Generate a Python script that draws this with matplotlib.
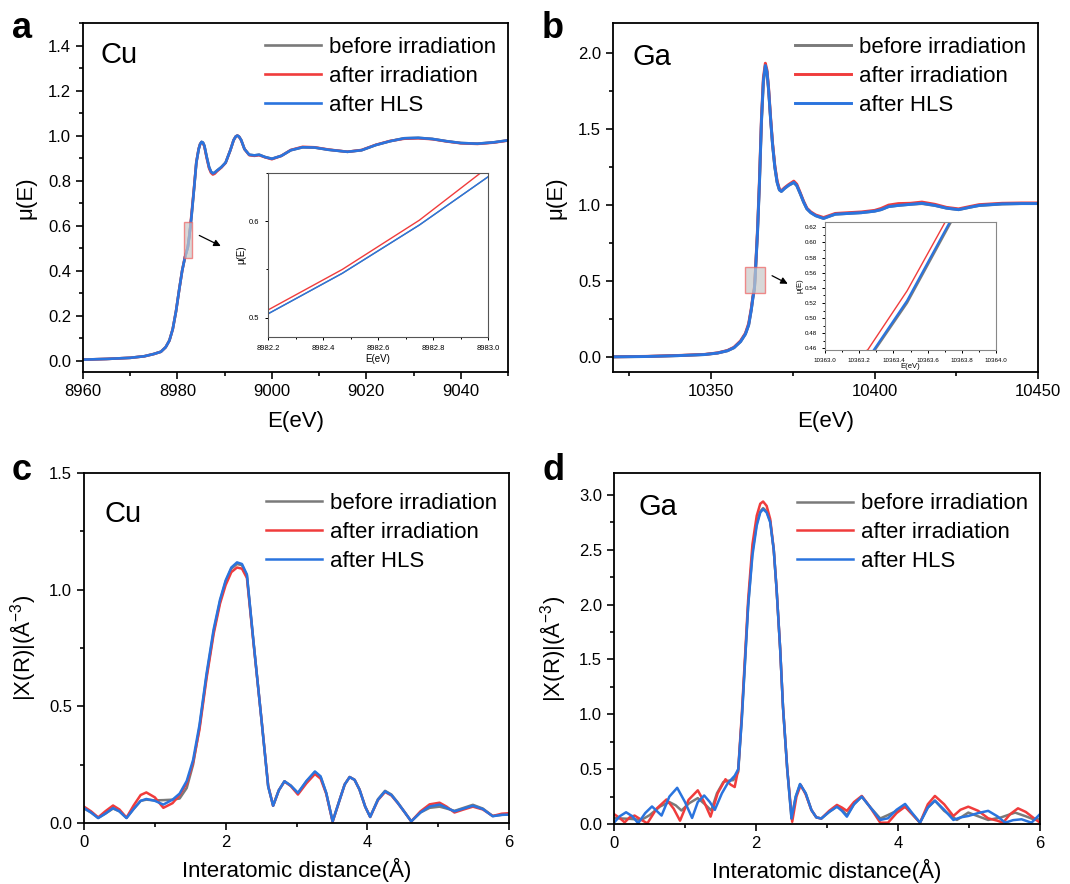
import numpy as np
import matplotlib
matplotlib.use('Agg')
from matplotlib import pyplot as plt
from matplotlib.patches import Rectangle
from matplotlib.ticker import MultipleLocator, FormatStrFormatter

plt.rcParams['font.family'] = ['Liberation Sans', 'DejaVu Sans']
plt.rcParams['mathtext.fontset'] = 'custom'
plt.rcParams['mathtext.rm'] = 'Liberation Sans'
plt.rcParams['mathtext.it'] = 'Liberation Sans:italic'

W, H = 1070, 884
labels = ['before irradiation', 'after irradiation', 'after HLS']
colors = ['#7a7a7a', '#f03c3c', '#2a74de']

# ---- a: Cu K-edge XANES (energy eV, mu(E)) ----
cu_e = [8960, 8965, 8970, 8973, 8975, 8976.5, 8977.5, 8978.3, 8979, 8979.7,
        8980.4, 8981, 8981.6, 8982.2, 8982.47, 8982.75, 8983, 8983.5, 8984, 8984.5,
        8984.8, 8985.1, 8985.4, 8985.7, 8986.2, 8986.7, 8987.1, 8987.5, 8987.9, 8988.4,
        8989.3, 8990.2, 8991.2, 8991.9, 8992.35, 8992.7, 8993.05, 8993.5, 8994.2, 8995.2,
        8996.3, 8997.3, 8998.5, 9000, 9002, 9004, 9006.5, 9009, 9012, 9016,
        9019, 9022, 9025, 9028, 9031, 9034, 9037, 9040, 9043.5, 9047,
        9050]
cu_hls = [0.005, 0.008, 0.013, 0.02, 0.03, 0.04, 0.06, 0.09, 0.14, 0.22,
          0.32, 0.40, 0.46, 0.504, 0.546, 0.596, 0.646, 0.76, 0.88, 0.94,
          0.962, 0.972, 0.969, 0.955, 0.905, 0.86, 0.84, 0.832, 0.836, 0.845,
          0.86, 0.88, 0.935, 0.98, 0.996, 1.0, 0.995, 0.98, 0.94, 0.915,
          0.912, 0.915, 0.905, 0.897, 0.91, 0.935, 0.948, 0.947, 0.937, 0.928,
          0.935, 0.958, 0.975, 0.988, 0.99, 0.985, 0.975, 0.967, 0.964, 0.97,
          0.979]
cu_after = [0.005, 0.008, 0.013, 0.02, 0.03, 0.04, 0.06, 0.09, 0.14, 0.22,
            0.32, 0.40, 0.462, 0.508, 0.550, 0.601, 0.656, 0.765, 0.882, 0.942,
            0.962, 0.971, 0.967, 0.952, 0.90, 0.855, 0.835, 0.827, 0.831, 0.842,
            0.858, 0.879, 0.935, 0.98, 0.996, 1.0, 0.995, 0.979, 0.94, 0.913,
            0.91, 0.913, 0.904, 0.895, 0.91, 0.936, 0.95, 0.948, 0.938, 0.928,
            0.936, 0.959, 0.976, 0.986, 0.988, 0.984, 0.974, 0.966, 0.963, 0.969,
            0.978]
cu_before = cu_hls

# ---- b: Ga K-edge XANES ----
ga_e = [10320, 10330, 10340, 10348, 10352, 10355, 10357, 10359, 10360.5, 10361.5,
        10362.3, 10362.8, 10363.25, 10363.48, 10363.73, 10364.2, 10364.8, 10365.4, 10366, 10366.6,
        10367.1, 10367.6, 10368.2, 10368.8, 10369.5, 10370.2, 10370.9, 10371.5, 10372.5, 10373.7,
        10375.3, 10376.2, 10377.3, 10378.3, 10379.3, 10380.5, 10382, 10384.4, 10386, 10388,
        10392, 10396, 10400, 10402, 10404.3, 10407.3, 10411, 10414.5, 10418.5, 10422,
        10425.7, 10429, 10432, 10439, 10445, 10450]
ga_hls = [0.0, 0.002, 0.008, 0.015, 0.025, 0.04, 0.06, 0.10, 0.15, 0.21,
          0.31, 0.39, 0.446, 0.523, 0.627, 0.82, 1.15, 1.55, 1.82, 1.92,
          1.88, 1.76, 1.57, 1.40, 1.25, 1.15, 1.10, 1.09, 1.11, 1.13,
          1.15, 1.13, 1.075, 1.02, 0.976, 0.95, 0.93, 0.912, 0.925, 0.94,
          0.945, 0.95, 0.96, 0.97, 0.99, 0.998, 1.005, 1.012, 0.998, 0.98,
          0.97, 0.985, 0.998, 1.008, 1.01, 1.01]
ga_after = [0.0, 0.003, 0.009, 0.016, 0.026, 0.042, 0.063, 0.105, 0.155, 0.22,
            0.32, 0.40, 0.458, 0.536, 0.638, 0.84, 1.17, 1.57, 1.84, 1.935,
            1.89, 1.77, 1.58, 1.41, 1.26, 1.16, 1.105, 1.095, 1.115, 1.135,
            1.158, 1.138, 1.08, 1.025, 0.98, 0.955, 0.935, 0.918, 0.93, 0.945,
            0.95, 0.955, 0.965, 0.978, 1.0, 1.01, 1.012, 1.02, 1.005, 0.985,
            0.975, 0.99, 1.003, 1.012, 1.014, 1.014]
ga_before = [0.0, 0.002, 0.008, 0.015, 0.025, 0.04, 0.06, 0.10, 0.15, 0.21,
             0.31, 0.39, 0.444, 0.520, 0.624, 0.815, 1.14, 1.54, 1.81, 1.915,
             1.875, 1.755, 1.565, 1.40, 1.25, 1.15, 1.10, 1.09, 1.11, 1.13,
             1.148, 1.128, 1.073, 1.02, 0.975, 0.95, 0.93, 0.912, 0.925, 0.94,
             0.945, 0.95, 0.96, 0.97, 0.99, 0.998, 1.005, 1.01, 0.997, 0.98,
             0.97, 0.985, 0.997, 1.007, 1.01, 1.01]

# ---- c: Cu FT-EXAFS (R in A, |X(R)|) ----
c_r = [0, 0.1, 0.2, 0.3, 0.41, 0.5, 0.6, 0.7, 0.8, 0.88,
       1.0, 1.12, 1.25, 1.35, 1.45, 1.54, 1.63, 1.73, 1.83, 1.92,
       2.0, 2.08, 2.16, 2.23, 2.3, 2.39, 2.51, 2.6, 2.67, 2.75,
       2.83, 2.92, 3.02, 3.14, 3.26, 3.34, 3.42, 3.51, 3.61, 3.68,
       3.75, 3.82, 3.89, 3.97, 4.04, 4.15, 4.25, 4.34, 4.43, 4.53,
       4.62, 4.75, 4.88, 5.02, 5.12, 5.23, 5.36, 5.49, 5.63, 5.77,
       5.9, 6.0]
c_hls = [0.064, 0.045, 0.021, 0.04, 0.064, 0.05, 0.021, 0.06, 0.095, 0.103,
         0.095, 0.079, 0.10, 0.126, 0.18, 0.27, 0.42, 0.64, 0.83, 0.957,
         1.04, 1.095, 1.117, 1.11, 1.065, 0.786, 0.429, 0.157, 0.074, 0.14,
         0.179, 0.16, 0.129, 0.18, 0.221, 0.2, 0.129, 0.007, 0.1, 0.165,
         0.197, 0.185, 0.143, 0.07, 0.026, 0.1, 0.136, 0.12, 0.086, 0.045,
         0.007, 0.045, 0.071, 0.079, 0.065, 0.05, 0.062, 0.074, 0.06, 0.029,
         0.035, 0.036]
c_after = [0.07, 0.05, 0.024, 0.05, 0.075, 0.058, 0.023, 0.075, 0.12, 0.131,
           0.11, 0.065, 0.085, 0.12, 0.17, 0.26, 0.40, 0.62, 0.81, 0.94,
           1.02, 1.075, 1.095, 1.09, 1.05, 0.78, 0.43, 0.16, 0.074, 0.14,
           0.178, 0.158, 0.122, 0.17, 0.21, 0.19, 0.125, 0.005, 0.1, 0.165,
           0.197, 0.185, 0.143, 0.07, 0.026, 0.098, 0.133, 0.118, 0.085, 0.045,
           0.007, 0.05, 0.08, 0.087, 0.07, 0.045, 0.058, 0.07, 0.058, 0.03,
           0.04, 0.042]
c_before = [0.062, 0.045, 0.022, 0.04, 0.062, 0.05, 0.022, 0.06, 0.095, 0.10,
            0.097, 0.098, 0.10, 0.105, 0.15, 0.25, 0.41, 0.63, 0.82, 0.95,
            1.035, 1.09, 1.11, 1.105, 1.06, 0.785, 0.43, 0.157, 0.074, 0.14,
            0.179, 0.16, 0.128, 0.178, 0.218, 0.198, 0.128, 0.007, 0.1, 0.165,
            0.197, 0.185, 0.143, 0.07, 0.026, 0.102, 0.138, 0.122, 0.088, 0.045,
            0.007, 0.045, 0.065, 0.07, 0.062, 0.052, 0.065, 0.078, 0.062, 0.03,
            0.035, 0.036]

# ---- d: Ga FT-EXAFS ----
d_hls = [(0, 0.012), (0.08, 0.07), (0.17, 0.107), (0.26, 0.07), (0.34, 0.006),
         (0.44, 0.1), (0.535, 0.16), (0.6, 0.12), (0.67, 0.077), (0.78, 0.25),
         (0.89, 0.33), (1.0, 0.2), (1.10, 0.055), (1.18, 0.2), (1.27, 0.26),
         (1.35, 0.2), (1.42, 0.129), (1.52, 0.28), (1.6, 0.37), (1.70, 0.44),
         (1.75, 0.5), (1.8, 0.95), (1.89, 1.99), (1.95, 2.45), (2.01, 2.72),
         (2.06, 2.84), (2.10, 2.87), (2.15, 2.84), (2.20, 2.75), (2.25, 2.5),
         (2.29, 2.14), (2.34, 1.6), (2.38, 1.07), (2.44, 0.5), (2.5, 0.05),
         (2.56, 0.25), (2.62, 0.365), (2.7, 0.28), (2.78, 0.128), (2.85, 0.06),
         (2.92, 0.05), (3.03, 0.11), (3.14, 0.158), (3.21, 0.12), (3.28, 0.067),
         (3.38, 0.18), (3.49, 0.25), (3.6, 0.16), (3.75, 0.037), (3.86, 0.052),
         (3.98, 0.13), (4.10, 0.183), (4.2, 0.1), (4.31, 0.012), (4.42, 0.15),
         (4.52, 0.213), (4.65, 0.13), (4.78, 0.037), (4.88, 0.06), (4.99, 0.073),
         (5.13, 0.1), (5.27, 0.12), (5.4, 0.07), (5.51, 0.012), (5.62, 0.035),
         (5.74, 0.043), (5.88, 0.012), (6.0, 0.09)]
d_after = [(0, 0.09), (0.07, 0.06), (0.15, 0.015), (0.22, 0.06), (0.29, 0.077),
           (0.38, 0.04), (0.47, 0.006), (0.6, 0.14), (0.74, 0.224), (0.84, 0.14),
           (0.93, 0.03), (1.05, 0.22), (1.18, 0.307), (1.27, 0.2), (1.36, 0.067),
           (1.46, 0.28), (1.57, 0.408), (1.64, 0.36), (1.70, 0.337), (1.75, 0.5),
           (1.8, 1.0), (1.89, 2.05), (1.95, 2.55), (2.01, 2.81), (2.06, 2.92),
           (2.10, 2.94), (2.15, 2.9), (2.20, 2.78), (2.25, 2.5), (2.29, 2.14),
           (2.34, 1.6), (2.38, 1.07), (2.44, 0.5), (2.51, 0.02), (2.57, 0.25),
           (2.63, 0.356), (2.7, 0.27), (2.78, 0.128), (2.85, 0.06), (2.92, 0.05),
           (3.03, 0.12), (3.14, 0.174), (3.21, 0.15), (3.28, 0.12), (3.38, 0.2),
           (3.49, 0.256), (3.6, 0.16), (3.75, 0.012), (3.86, 0.012), (3.98, 0.1),
           (4.10, 0.158), (4.2, 0.09), (4.31, 0.012), (4.42, 0.18), (4.52, 0.256),
           (4.65, 0.18), (4.78, 0.073), (4.88, 0.13), (4.99, 0.158), (5.13, 0.12),
           (5.27, 0.052), (5.4, 0.03), (5.48, 0.012), (5.58, 0.09), (5.69, 0.143),
           (5.8, 0.11), (5.9, 0.06), (6.0, 0.012)]
d_before = [(0, 0.055), (0.12, 0.05), (0.24, 0.046), (0.385, 0.037), (0.5, 0.08),
            (0.65, 0.16), (0.78, 0.2), (0.87, 0.17), (0.95, 0.123), (1.06, 0.19),
            (1.18, 0.236), (1.28, 0.18), (1.37, 0.123), (1.45, 0.28), (1.54, 0.383),
            (1.62, 0.395), (1.68, 0.40), (1.75, 0.475), (1.8, 0.97), (1.89, 2.0),
            (1.95, 2.48), (2.01, 2.74), (2.06, 2.85), (2.10, 2.88), (2.15, 2.85),
            (2.20, 2.76), (2.25, 2.5), (2.29, 2.14), (2.34, 1.6), (2.38, 1.07),
            (2.44, 0.5), (2.5, 0.05), (2.56, 0.25), (2.62, 0.36), (2.7, 0.28),
            (2.78, 0.128), (2.85, 0.06), (2.92, 0.05), (3.03, 0.11), (3.14, 0.16),
            (3.21, 0.13), (3.28, 0.08), (3.38, 0.18), (3.49, 0.25), (3.6, 0.16),
            (3.75, 0.05), (3.86, 0.082), (3.98, 0.12), (4.10, 0.158), (4.2, 0.09),
            (4.31, 0.012), (4.42, 0.15), (4.52, 0.213), (4.65, 0.12), (4.83, 0.037),
            (4.99, 0.104), (5.13, 0.07), (5.27, 0.037), (5.45, 0.06), (5.65, 0.104),
            (5.8, 0.07), (5.93, 0.037), (6.0, 0.05)]


def px_rect(l, r, t, b):
    return [l / W, 1 - b / H, (r - l) / W, (b - t) / H]


def style_axes(ax, fs=12, major=5, minor=3, lw=1.3):
    for s in ax.spines.values():
        s.set_linewidth(lw)
    ax.tick_params(which='both', direction='out', top=False, right=False,
                   width=lw * 0.9, labelsize=fs, colors='black')
    ax.tick_params(which='major', length=major)
    ax.tick_params(which='minor', length=minor)


def draw_series(ax, xs, ys_list, lw):
    for y, c, lab in zip(ys_list, colors, labels):
        ax.plot(xs, y, color=c, lw=lw, label=lab)


def add_legend(ax, top):
    ax.legend(loc='upper right', bbox_to_anchor=(1.0, top), frameon=False, fontsize=16,
              handlelength=2.5, handletextpad=0.35, labelspacing=0.35, borderaxespad=0.15)


fig = plt.figure(figsize=(W / 100, H / 100), dpi=100)

# panel a
ax = fig.add_axes(px_rect(83, 508, 23, 372))
draw_series(ax, cu_e, [cu_before, cu_after, cu_hls], 1.9)
ax.set_xlim(8960, 9050)
ax.set_ylim(-0.05, 1.5)
ax.xaxis.set_major_locator(MultipleLocator(20))
ax.xaxis.set_minor_locator(MultipleLocator(10))
ax.yaxis.set_major_locator(MultipleLocator(0.2))
ax.yaxis.set_minor_locator(MultipleLocator(0.1))
ax.yaxis.set_major_formatter(FormatStrFormatter('%.1f'))
ax.ticklabel_format(axis='x', useOffset=False)
style_axes(ax)
ax.set_xlabel('E(eV)', fontsize=16, labelpad=9)
ax.set_ylabel('μ(E)', fontsize=16, labelpad=8)
ax.add_patch(Rectangle((8981.4, 0.455), 1.6, 0.16, facecolor='#c8c8c8',
                       edgecolor='#f06060', lw=1.0, alpha=0.7, zorder=5))
ax.annotate('', xy=(8989.7, 0.504), xytext=(8984.1, 0.562),
            arrowprops=dict(arrowstyle='-|>', color='black', lw=0.9, mutation_scale=10))
add_legend(ax, 0.995)
fig.text(100 / W, 1 - 55 / H, 'Cu', fontsize=21, va='center', ha='left')
fig.text(12 / W, 1 - 28 / H, 'a', fontsize=26, fontweight='bold', va='center', ha='left')

# inset a
axi = fig.add_axes(px_rect(268, 488, 173, 337))
axi.plot(cu_e, cu_before, color=colors[0], lw=1.0)
axi.plot(cu_e, cu_after, color=colors[1], lw=1.0)
axi.plot(cu_e, cu_hls, color=colors[2], lw=1.0)
axi.set_xlim(8982.2, 8983.0)
axi.set_ylim(0.48, 0.65)
axi.xaxis.set_major_locator(MultipleLocator(0.2))
axi.xaxis.set_minor_locator(MultipleLocator(0.1))
axi.yaxis.set_major_locator(MultipleLocator(0.1))
axi.yaxis.set_minor_locator(MultipleLocator(0.05))
axi.xaxis.set_major_formatter(FormatStrFormatter('%.1f'))
axi.yaxis.set_major_formatter(FormatStrFormatter('%.1f'))
style_axes(axi, fs=5.5, major=2.5, minor=1.5, lw=0.8)
for s in axi.spines.values():
    s.set_color('#555555')
axi.set_xlabel('E(eV)', fontsize=7, labelpad=1)
axi.set_ylabel('μ(E)', fontsize=7, labelpad=2)

# panel b
ax = fig.add_axes(px_rect(613, 1038, 23, 372))
draw_series(ax, ga_e, [ga_before, ga_after, ga_hls], 2.1)
ax.set_xlim(10320, 10450)
ax.set_ylim(-0.1, 2.2)
ax.xaxis.set_major_locator(MultipleLocator(50))
ax.xaxis.set_minor_locator(MultipleLocator(25))
ax.yaxis.set_major_locator(MultipleLocator(0.5))
ax.yaxis.set_minor_locator(MultipleLocator(0.25))
ax.yaxis.set_major_formatter(FormatStrFormatter('%.1f'))
ax.ticklabel_format(axis='x', useOffset=False)
style_axes(ax)
ax.set_xlabel('E(eV)', fontsize=16, labelpad=9)
ax.set_ylabel('μ(E)', fontsize=16, labelpad=8)
ax.add_patch(Rectangle((10360.3, 0.418), 6.1, 0.171, facecolor='#c8c8c8',
                       edgecolor='#f06060', lw=1.0, alpha=0.7, zorder=5))
ax.annotate('', xy=(10374.2, 0.473), xytext=(10367.9, 0.543),
            arrowprops=dict(arrowstyle='-|>', color='black', lw=0.9, mutation_scale=10))
add_legend(ax, 0.995)
fig.text(632 / W, 1 - 57 / H, 'Ga', fontsize=21, va='center', ha='left')
fig.text(542 / W, 1 - 28 / H, 'b', fontsize=26, fontweight='bold', va='center', ha='left')

# inset b
axi = fig.add_axes(px_rect(825, 996, 222, 350))
axi.plot(ga_e, ga_before, color=colors[0], lw=1.6)
axi.plot(ga_e, ga_after, color=colors[1], lw=1.0)
axi.plot(ga_e, ga_hls, color=colors[2], lw=1.6)
axi.set_xlim(10363.0, 10364.0)
axi.set_ylim(0.4578, 0.627)
axi.xaxis.set_major_locator(MultipleLocator(0.2))
axi.xaxis.set_minor_locator(MultipleLocator(0.1))
axi.yaxis.set_major_locator(MultipleLocator(0.02))
axi.yaxis.set_minor_locator(MultipleLocator(0.01))
axi.xaxis.set_major_formatter(FormatStrFormatter('%.1f'))
axi.yaxis.set_major_formatter(FormatStrFormatter('%.2f'))
style_axes(axi, fs=4.5, major=2, minor=1.2, lw=0.8)
for s in axi.spines.values():
    s.set_color('#888888')
axi.set_xlabel('E(eV)', fontsize=5.5, labelpad=0.5)
axi.set_ylabel('μ(E)', fontsize=5.5, labelpad=1)

# panel c
ax = fig.add_axes(px_rect(84, 509, 473, 823))
draw_series(ax, c_r, [c_before, c_after, c_hls], 1.8)
ax.set_xlim(0, 6)
ax.set_ylim(0, 1.5)
ax.xaxis.set_major_locator(MultipleLocator(2))
ax.xaxis.set_minor_locator(MultipleLocator(1))
ax.yaxis.set_major_locator(MultipleLocator(0.5))
ax.yaxis.set_minor_locator(MultipleLocator(0.25))
ax.yaxis.set_major_formatter(FormatStrFormatter('%.1f'))
style_axes(ax)
ax.set_xlabel('Interatomic distance(Å)', fontsize=16, labelpad=6)
ax.set_ylabel('|X(R)|(Å$^{-3}$)', fontsize=16, labelpad=8)
add_legend(ax, 0.977)
fig.text(104 / W, 1 - 514 / H, 'Cu', fontsize=21, va='center', ha='left')
fig.text(12 / W, 1 - 470 / H, 'c', fontsize=26, fontweight='bold', va='center', ha='left')

# panel d
ax = fig.add_axes(px_rect(614, 1040, 473, 824))
for pts, c, lab in zip([d_before, d_after, d_hls], colors, labels):
    r = [p[0] for p in pts]
    v = [p[1] for p in pts]
    ax.plot(r, v, color=c, lw=1.8, label=lab)
ax.set_xlim(0, 6)
ax.set_ylim(0, 3.2)
ax.xaxis.set_major_locator(MultipleLocator(2))
ax.xaxis.set_minor_locator(MultipleLocator(1))
ax.yaxis.set_major_locator(MultipleLocator(0.5))
ax.yaxis.set_minor_locator(MultipleLocator(0.25))
ax.yaxis.set_major_formatter(FormatStrFormatter('%.1f'))
style_axes(ax)
ax.set_xlabel('Interatomic distance(Å)', fontsize=16, labelpad=6)
ax.set_ylabel('|X(R)|(Å$^{-3}$)', fontsize=16, labelpad=8)
add_legend(ax, 0.977)
fig.text(638 / W, 1 - 507 / H, 'Ga', fontsize=21, va='center', ha='left')
fig.text(542 / W, 1 - 470 / H, 'd', fontsize=26, fontweight='bold', va='center', ha='left')

fig.savefig('out.png', dpi=100)
